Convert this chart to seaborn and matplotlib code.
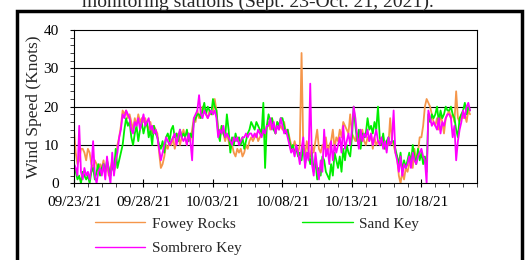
import matplotlib
matplotlib.use("Agg")
import matplotlib.pyplot as plt
import matplotlib.dates as mdates
from matplotlib.patches import Rectangle
import pandas as pd
import seaborn as sns

# 3-hourly wind speed (knots), starting 09/23/21 00:00
fowey_rocks = [
    14, 8, 5, 6, 9, 9, 8, 6,
    9, 8, 5, 4, 6, 5, 3, 5,
    4, 6, 3, 5, 2, 4, 6, 3,
    5, 10, 12, 15, 19, 18, 19, 17,
    18, 16, 14, 17, 15, 18, 16, 17,
    16, 17, 15, 14, 16, 13, 15, 14,
    13, 8, 4, 5, 7, 10, 9, 11,
    10, 12, 9, 11, 13, 10, 12, 14,
    12, 10, 13, 11, 14, 17, 16, 19,
    17, 18, 20, 19, 18, 17, 19, 18,
    18, 22, 19, 14, 12, 15, 13, 11,
    13, 11, 9, 10, 8, 7, 9, 8,
    9, 7, 8, 10, 9, 11, 12, 11,
    12, 13, 11, 12, 13, 14, 12, 15,
    16, 14, 17, 15, 13, 16, 14, 15,
    14, 16, 13, 14, 12, 10, 9, 11,
    9, 8, 10, 34, 9, 7, 11, 8,
    7, 10, 8, 11, 14, 9, 8, 10,
    9, 12, 8, 10, 11, 14, 9, 12,
    11, 14, 12, 16, 15, 14, 13, 18,
    13, 12, 11, 13, 10, 12, 14, 11,
    10, 12, 11, 13, 9, 12, 10, 11,
    11, 10, 12, 9, 11, 10, 17, 11,
    10, 8, 7, 2, 0, 3, 1, 4,
    3, 5, 7, 4, 9, 6, 8, 12,
    12, 15, 20, 22, 21, 20, 18, 16,
    15, 17, 14, 18, 16, 13, 17, 18,
    19, 17, 18, 16, 24, 17, 16, 18,
    17, 18, 16, 19, 18,
]
sand_key = [
    5, 3, 1, 2, 0, 3, 2, 1,
    2, 0, 3, 4, 1, 3, 5, 2,
    4, 5, 3, 6, 4, 2, 5, 3,
    9, 4, 6, 8, 10, 14, 17, 15,
    16, 12, 10, 13, 15, 11, 14, 16,
    13, 15, 16, 12, 14, 10, 15, 13,
    12, 10, 9, 11, 8, 12, 13, 11,
    14, 15, 12, 13, 11, 14, 12, 13,
    12, 14, 11, 13, 12, 16, 17, 18,
    18, 17, 19, 21, 18, 20, 19, 18,
    22, 20, 19, 13, 11, 15, 13, 12,
    18, 14, 8, 12, 10, 13, 11, 12,
    10, 12, 9, 11, 13, 14, 16, 15,
    14, 16, 15, 14, 13, 21, 4, 15,
    18, 16, 17, 14, 13, 16, 15, 17,
    17, 15, 13, 14, 11, 9, 10, 8,
    9, 7, 8, 6, 10, 5, 8, 7,
    5, 8, 3, 6, 1, 4, 2, 7,
    6, 3, 2, 1, 5, 2, 8, 6,
    4, 7, 3, 9, 6, 10, 8, 7,
    12, 20, 15, 11, 14, 9, 13, 12,
    13, 17, 14, 15, 13, 16, 14, 20,
    12, 10, 13, 9, 11, 12, 10, 11,
    11, 9, 7, 5, 8, 3, 6, 4,
    6, 8, 5, 10, 7, 5, 9, 6,
    8, 5, 7, 3, 18, 16, 18, 17,
    18, 20, 16, 19, 17, 18, 20, 19,
    19, 20, 18, 17, 14, 12, 17, 18,
    19, 21, 18, 20, 19,
]
sombrero_key = [
    5, 4, 2, 15, 3, 1, 4, 2,
    3, 1, 4, 11, 2, 0, 3, 4,
    2, 5, 1, 7, 3, 0, 8, 2,
    6, 8, 12, 14, 18, 17, 19, 18,
    17, 14, 13, 16, 15, 17, 14, 16,
    18, 15, 16, 17, 14, 15, 13, 14,
    12, 9, 6, 8, 10, 12, 11, 10,
    11, 12, 13, 10, 12, 14, 12, 11,
    12, 10, 13, 11, 6, 17, 18, 19,
    23, 18, 17, 19, 18, 17, 18, 19,
    18, 19, 17, 12, 14, 13, 15, 12,
    13, 12, 11, 10, 12, 11, 12, 10,
    11, 12, 12, 13, 12, 13, 13, 12,
    13, 12, 14, 13, 12, 14, 13, 15,
    15, 17, 14, 16, 13, 15, 14, 17,
    15, 13, 14, 12, 10, 8, 9, 7,
    10, 8, 5, 9, 12, 4, 8, 6,
    26, 5, 2, 8, 4, 1, 6, 3,
    14, 7, 9, 5, 11, 6, 10, 8,
    10, 12, 8, 15, 9, 11, 13, 10,
    14, 20, 17, 12, 9, 14, 11, 13,
    12, 14, 11, 13, 10, 12, 14, 11,
    10, 12, 9, 11, 8, 12, 10, 11,
    19, 8, 6, 3, 7, 2, 5, 4,
    5, 7, 4, 8, 6, 5, 7, 8,
    9, 7, 6, 0, 19, 17, 15, 16,
    15, 14, 17, 13, 16, 15, 17, 18,
    18, 17, 12, 15, 6, 11, 14, 16,
    19, 17, 20, 21, 19,
]
stations = ["Fowey Rocks", "Sand Key", "Sombrero Key"]
colors = ["#F5964A", "#00EE00", "#FF00FF"]

times = pd.date_range("2021-09-23", periods=len(fowey_rocks), freq="3h")
df = pd.DataFrame({"time": times, "Fowey Rocks": fowey_rocks,
                   "Sand Key": sand_key, "Sombrero Key": sombrero_key})
long_df = df.melt(id_vars="time", var_name="station", value_name="speed")

sns.set_style("ticks")
plt.rcParams["font.family"] = ["Liberation Serif", "DejaVu Serif"]

fig = plt.figure(figsize=(5.29, 2.6), dpi=100)
ax = fig.add_axes([74 / 529, 1 - 183.3 / 260, (477 - 74) / 529, (183.3 - 30) / 260])

for y in [10, 20, 30]:
    ax.axhline(y, color="black", lw=0.8, zorder=0)

sns.lineplot(data=long_df, x="time", y="speed", hue="station", hue_order=stations,
             palette=colors, lw=1.3, ax=ax, legend=False)

ax.set_xlim(pd.Timestamp("2021-09-23"), pd.Timestamp("2021-10-22"))
ax.set_ylim(0, 40)
ax.set_yticks([0, 10, 20, 30, 40])
ax.set_yticks(range(0, 41, 2), minor=True)
ax.xaxis.set_major_locator(mdates.DayLocator(bymonthday=[23, 28, 3, 8, 13, 18]))
ax.xaxis.set_minor_locator(mdates.DayLocator())
ax.xaxis.set_major_formatter(mdates.DateFormatter("%m/%d/%y"))
ax.set_xlabel("")
ax.set_ylabel("Wind Speed (Knots)", fontsize=12.5, labelpad=1)
ax.tick_params(axis="both", labelsize=11, colors="black", width=0.8)
ax.tick_params(axis="y", which="both", direction="out", length=3, pad=8)
ax.tick_params(axis="x", which="major", direction="inout", length=6, pad=6)
ax.tick_params(axis="x", which="minor", direction="out", length=3)
for s in ax.spines.values():
    s.set_color("black")
    s.set_linewidth(0.8)

# column-major legend fill: Fowey / Sombrero in column 1, Sand Key in column 2
order = [0, 2, 1]
handles = [plt.Line2D([], [], color=colors[i], lw=1) for i in order]
labels = [stations[i] for i in order]
fig.legend(handles, labels, loc="upper left", ncol=2, frameon=False,
           bbox_to_anchor=(95 / 529, 1 - 217 / 260), fontsize=11,
           handlelength=3.3, handletextpad=0.4, columnspacing=4.0,
           labelspacing=0.7, borderpad=0, borderaxespad=0)

fig.text(258 / 529, 1 - 6.5 / 260, "monitoring stations (Sept. 23-Oct. 21, 2021).",
         ha="center", va="baseline", fontsize=14)
fig.patches.append(Rectangle((16.5 / 529, -0.1), (522 - 16.5) / 529, 1.1 - 10.5 / 260,
                             transform=fig.transFigure, fill=False,
                             edgecolor="black", lw=2.5))

fig.savefig("out.png", dpi=100)
